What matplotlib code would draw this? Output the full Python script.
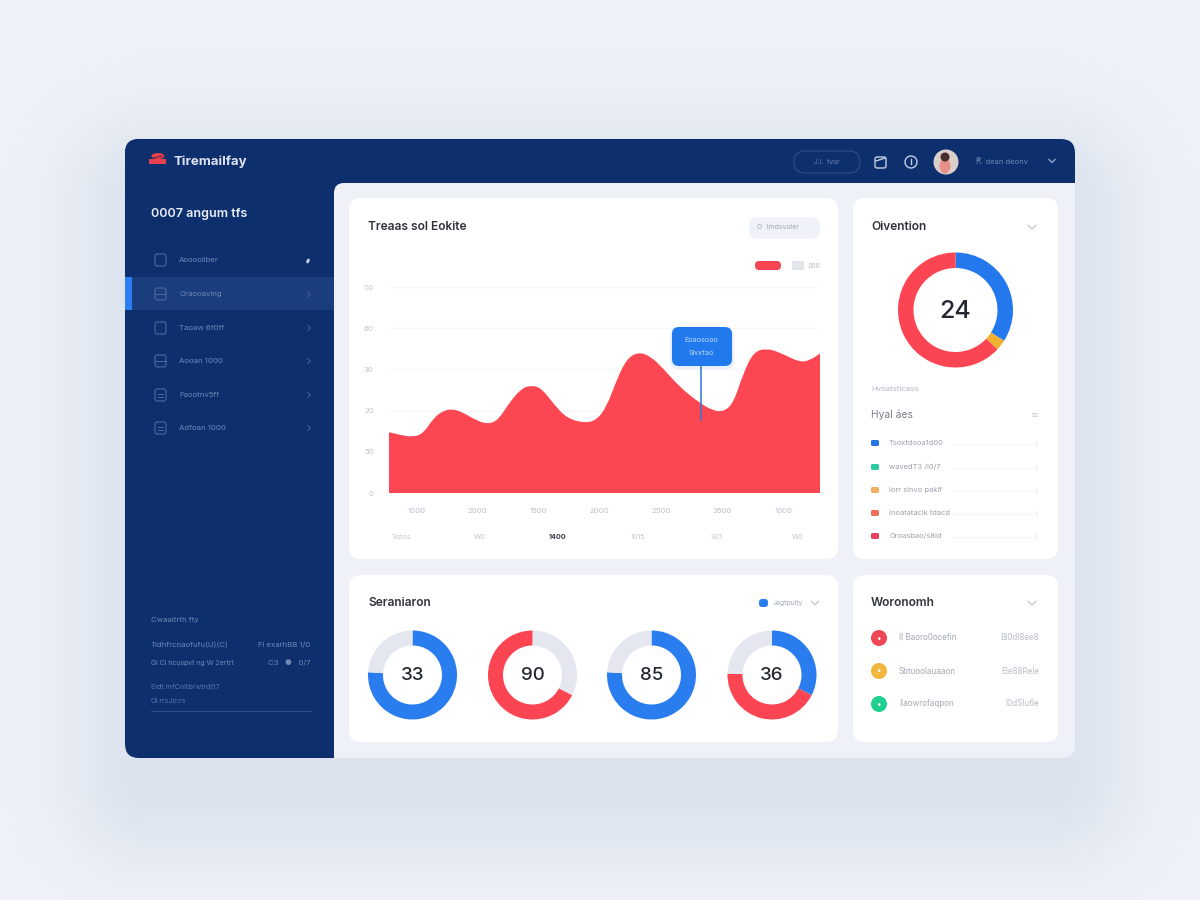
import numpy as np
import matplotlib
matplotlib.use("Agg")
import matplotlib.pyplot as plt
from matplotlib.patches import FancyBboxPatch, Rectangle, Circle, PathPatch, Ellipse
from matplotlib.path import Path

plt.rcParams['font.family'] = ['Inter', 'DejaVu Sans']

# ---------- data ----------
area_x = [0, 2.6, 5.6, 8, 10.3, 12.6, 14.9, 17.2, 20.3, 23, 25.4, 28.1, 30.8, 33.1, 35.4, 38.1, 41.2,
          45.5, 48.2, 50.5, 52.8, 55.2, 57.9, 60.6, 63.6, 67.5, 72.2, 75.2, 77.6, 79.9, 82.2, 84.6,
          87.6, 90.7, 95.3, 97.7, 100]
area_y = [29.5, 28.2, 27.1, 29.0, 36.3, 40.0, 40.8, 39.0, 35.2, 33.4, 35.5, 44.4, 50.8, 52.3, 50.8, 43.5, 36.3,
          33.9, 35.5, 41.9, 54.8, 65.3, 68.4, 66.5, 60.5, 51.3, 43.5, 40.0, 39.5, 43.5, 58.1, 68.5,
          70.2, 68.2, 63.4, 64.5, 67.7]
y_ticks = [0, 20, 40, 60, 80, 100]
y_tick_labels = ['0', '50', '20', '30', '60', '00']
x_tick_pos = [6.5, 20.4, 34.6, 48.7, 63.1, 77.3, 91.6]
x_tick_labels = ['1000', '2000', '1500', '2000', '2500', '3500', '1000']
x2_pos = [2.8, 21.1, 39.2, 57.8, 76.1, 94.7]
x2_labels = ['Sqtos', 'W0', '1400', '1015', 'S01', 'W0']

overview_values = [34, 3, 63]
overview_colors = ['#2478EE', '#F0B030', '#FB4552']
overview_center = '24'

donut_values = [[76, 24], [32.5, 67.5], [76, 24], [32.5, 43, 24.5]]
donut_colors = [['#2A7DEE', '#E4E7EF'], ['#E4E7EF', '#FB4552'], ['#2A7DEE', '#E4E7EF'],
                ['#2A7DEE', '#FB4552', '#E4E7EF']]
donut_labels = ['33', '90', '85', '36']

side_items = ['Aooooilber', 'Oraooaving', 'Taoaw 6f0ff', 'Aooan 1000', 'Faootnv5ff', 'Adfoan 1000']
legend_items = ['Tsoxtdooa1d00', 'wavedT3 /l0/7', 'lorr sinvo paklf', 'Inoatatacik tdacd', 'Oroasbao/s8ld']
legend_colors = ['#2476E6', '#2CCB9F', '#F2AE62', '#EE6C58', '#E8425E']
list_left = ['Il Baoro0ocefin', 'Sbtuoolauaaon', 'Ilaowrofaqpon']
list_right = ['Bl0dI8ee8', 'Ele88Rele', 'I0dSIu6e']
list_colors = ['#EF4655', '#F2B73D', '#1FD08F']

NAVY = '#0E2F6E'
INK = '#30343C'
MUTED = '#B3B9C4'
PANEL = '#EEF2F8'

# ---------- canvas ----------
fig = plt.figure(figsize=(12, 9), dpi=100)
bg = fig.add_axes([0, 0, 1, 1], zorder=0)
bg.set_xlim(0, 1200); bg.set_ylim(900, 0); bg.axis('off')

yy, xx = np.mgrid[0:900, 0:1200]
qx = np.maximum(np.abs(xx - 600) - 450, 0)
qy = np.maximum(np.abs(yy - 490) - 290, 0)
dist = np.hypot(qx, qy)
shade = 0.55 * np.exp(-(dist / 85.0) ** 2)
base = np.array([0xEF, 0xF2, 0xF8]) / 255
dark = np.array([0xCB, 0xD6, 0xE6]) / 255
img = base[None, None, :] * (1 - shade[..., None]) + dark[None, None, :] * shade[..., None]
bg.imshow(img, extent=(0, 1200, 900, 0), aspect='auto', interpolation='bilinear', zorder=0)
bg.set_xlim(0, 1200); bg.set_ylim(900, 0)


def rbox(ax, x0, y0, x1, y1, r, fc, ec='none', lw=0, z=2, alpha=None):
    p = FancyBboxPatch((x0 + r, y0 + r), x1 - x0 - 2 * r, y1 - y0 - 2 * r,
                       boxstyle=f'round,pad={r},rounding_size={r}', fc=fc, ec=ec, lw=lw,
                       zorder=z, alpha=alpha)
    ax.add_patch(p)
    return p


def txt(ax, x, y, s, size=6, color=MUTED, ha='left', weight='normal', z=6):
    return ax.text(x, y, s, fontsize=size, color=color, ha=ha, va='center', fontweight=weight, zorder=z)


def chevron(ax, x, y, size=4, color='#B8BEC8', lw=0.8, right=False):
    if right:
        ax.plot([x - size / 2, x + size / 2, x - size / 2], [y - size, y, y + size], color=color, lw=lw, zorder=6)
    else:
        ax.plot([x - size, x, x + size], [y - size / 2, y + size / 2, y - size / 2], color=color, lw=lw, zorder=6)


# shell: light base, navy sidebar and header clipped to its rounded outline
shell = rbox(bg, 125, 139, 1075, 758, 14, PANEL, z=1)
side = Rectangle((125, 139), 209, 619, fc=NAVY, ec='none', zorder=1.5)
bg.add_patch(side); side.set_clip_path(shell)
head = Rectangle((125, 139), 950, 44, fc=NAVY, ec='none', zorder=1.5)
bg.add_patch(head); head.set_clip_path(shell)
corner_fill = Rectangle((334, 183), 12, 12, fc=NAVY, ec='none', zorder=1.6)
bg.add_patch(corner_fill)
content = rbox(bg, 334, 183, 1110, 800, 10, PANEL, z=2)
content.set_clip_path(shell)

# highlight row
bg.add_patch(Rectangle((125, 277), 209, 33, fc='#1A3D7E', ec='none', zorder=2))
bg.add_patch(Rectangle((125, 277), 7, 33, fc='#2B7FF2', ec='none', zorder=3))

# cards
for (a, b, c, d) in [(349, 198, 838, 559), (853, 198, 1058, 559), (349, 575, 838, 742), (853, 575, 1058, 742)]:
    rbox(bg, a, b, c, d, 12, '#FFFFFF', z=3)

# header
bg.add_patch(Ellipse((158, 156), 13, 6, fc='#E8404E', ec='none', zorder=5))
bg.add_patch(Rectangle((149, 159), 17, 5, fc='#E8404E', ec='none', zorder=5))
bg.plot([153, 163], [158, 156], color='#7A1F3A', lw=0.8, zorder=6)
txt(bg, 174, 162, 'Tiremailfay', 9.5, '#DDE4F0', weight='bold')
rbox(bg, 794, 151, 860, 173, 11, 'none', ec='#2D4F8E', lw=0.8, z=4)
txt(bg, 827, 162, 'J.I.  tvor', 4.8, '#6E86B4', ha='center')
rbox(bg, 875, 157, 886, 168, 2, 'none', ec='#C3CFE2', lw=1, z=5)
bg.plot([876, 885], [161, 158], color='#C3CFE2', lw=1, zorder=6)
bg.add_patch(Circle((911, 162), 6, fc='none', ec='#C3CFE2', lw=1, zorder=5))
bg.plot([911, 911], [159, 164], color='#C3CFE2', lw=1, zorder=6)
bg.add_patch(Circle((946, 162), 12.5, fc='#D9CFCB', ec='none', zorder=5))
bg.add_patch(Ellipse((945, 166), 11, 15, fc='#E88F88', ec='none', zorder=6))
bg.add_patch(Circle((945, 157), 4.5, fc='#4A2A2C', ec='none', zorder=7))
txt(bg, 976, 162, 'Ꞧ  dean deonv', 5.5, '#6E86B4')
chevron(bg, 1052, 161, 3, '#8FA3C8', 1)

# sidebar
txt(bg, 151, 214, '0007 angum tfs', 9.0, '#E8EDF6', weight='semibold')
rows_y = [260, 294, 328, 361, 395, 428]
for i, (name, y) in enumerate(zip(side_items, rows_y)):
    rbox(bg, 155, y - 6, 166, y + 6, 2.5, 'none', ec='#4C6A9F', lw=0.8, z=5)
    if i in (1, 3):
        bg.plot([155, 166], [y, y], color='#4C6A9F', lw=0.7, zorder=6)
    if i >= 4:
        bg.plot([158, 163], [y - 1, y - 1], color='#4C6A9F', lw=0.7, zorder=6)
        bg.plot([158, 163], [y + 2, y + 2], color='#4C6A9F', lw=0.7, zorder=6)
    txt(bg, 179, y, name, 5.6, '#6F88B5')
    if i == 0:
        bg.add_patch(Ellipse((308, y + 1), 3, 5, angle=25, fc='#C7D3E6', ec='none', zorder=6))
    else:
        chevron(bg, 309, y, 2.5, '#3E5F98', 0.8, right=True)

txt(bg, 151, 620, 'Cwaaitrth fty', 5.6, '#6F88B5')
txt(bg, 151, 645, 'Tidhfrcnaofufu(U)(C)', 5.6, '#6F88B5')
txt(bg, 310, 645, 'Fl exarhBB 1/0', 5.6, '#6F88B5', ha='right')
txt(bg, 151, 663, 'Gl Cl hcuspvt ng W 2ertrt', 5.0, '#6F88B5')
txt(bg, 310, 663, 'C3   ●   0/7', 5.6, '#6F88B5', ha='right')
txt(bg, 151, 687, 'Eldt mfCnltbrwtrd(t7', 5.2, '#5A76A8')
txt(bg, 151, 701, 'Ol.rrsJo:rs', 5.2, '#5A76A8')
bg.plot([151, 311], [711, 711], color='#2C4E8C', lw=0.8, zorder=5)

# card A decoration
txt(bg, 368, 227, 'Treaas sol Eokite', 8.6, INK, weight='semibold')
rbox(bg, 749, 217, 820, 239, 9, '#EFF2F8', z=5)
txt(bg, 757, 227, 'O  tmdsvoler', 5, '#A2A9B6')
rbox(bg, 755, 261, 781, 270, 4, '#FB4552', z=5)
bg.add_patch(Rectangle((792, 261), 12, 9, fc='#E2E5EA', ec='none', zorder=5))
txt(bg, 808, 266, '200', 5, MUTED)

# card B decoration
txt(bg, 871, 227, 'Oivention', 8.6, INK, weight='semibold')
chevron(bg, 1032, 227, 4)
txt(bg, 871, 389, 'Hvoatsticaso', 5.6, MUTED)
txt(bg, 871, 415, 'Hyal áes', 7.4, '#767C88')
txt(bg, 1035, 415, '≡', 7, '#CDD2DA', ha='center')
for name, col, y in zip(legend_items, legend_colors, [443, 467, 490, 513, 536]):
    rbox(bg, 871, y - 3, 879, y + 3, 1.5, col, z=5)
    txt(bg, 889, y, name, 5.4, '#9AA1AD')
    bg.plot([952, 1033], [y + 1, y + 1], color='#F4F5F8', lw=0.8, zorder=5)
    bg.plot([1036, 1036], [y - 2, y + 2], color='#E9EBEF', lw=0.8, zorder=5)

# card C decoration
txt(bg, 368, 603, 'Seraniaron', 8.6, INK, weight='semibold')
rbox(bg, 759, 599, 768, 607, 3, '#2A7DEE', z=5)
txt(bg, 773, 603, 'Jagtpuity', 5, '#A2A9B6')
chevron(bg, 815, 603, 3.5)

# card D
txt(bg, 871, 603, 'Woronomh', 8.6, INK, weight='semibold')
chevron(bg, 1032, 603, 4)
for a, b, c, y in zip(list_left, list_right, list_colors, [638, 671, 704]):
    bg.add_patch(Circle((879, y), 8, fc=c, ec='none', zorder=5))
    txt(bg, 879, y, '•', 6, '#FFFFFF', ha='center')
    txt(bg, 899, y, a, 5.8, '#A2A9B6')
    txt(bg, 1039, y, b, 5.8, '#B8BEC8', ha='right')


# ---------- area chart ----------
def sub_axes(x0, y0, x1, y1, z=5):
    return fig.add_axes([x0 / 1200, 1 - y1 / 900, (x1 - x0) / 1200, (y1 - y0) / 900], zorder=z)


ax = sub_axes(389, 287, 820, 493)
ax.patch.set_alpha(0)
ax.set_xlim(0, 100)
ax.set_ylim(0, 100)
for s in ax.spines.values():
    s.set_visible(False)
ax.set_yticks(y_ticks)
ax.set_yticklabels(y_tick_labels, fontsize=5.6, color='#BFC4CD')
ax.set_xticks(x_tick_pos)
ax.set_xticklabels(x_tick_labels, fontsize=5.6, color='#B9BEC8')
ax.tick_params(axis='both', length=0)
ax.tick_params(axis='y', pad=11)
ax.tick_params(axis='x', pad=11)
ax.grid(axis='y', color='#F6F7F8', lw=0.9)
ax.set_axisbelow(True)

# smooth outline: quadratic curve running through the midpoints of the read points
px = np.array(area_x, float); py = np.array(area_y, float)
mid_x = (px[:-1] + px[1:]) / 2; mid_y = (py[:-1] + py[1:]) / 2
verts = [(px[0], 0), (px[0], py[0]), (mid_x[0], mid_y[0])]
codes = [Path.MOVETO, Path.LINETO, Path.LINETO]
for i in range(1, len(px) - 1):
    verts += [(px[i], py[i]), (mid_x[i], mid_y[i])]
    codes += [Path.CURVE3, Path.CURVE3]
verts += [(px[-1], py[-1]), (px[-1], 0), (px[0], 0)]
codes += [Path.LINETO, Path.LINETO, Path.CLOSEPOLY]
ax.add_patch(PathPatch(Path(verts, codes), fc='#FC4651', ec='none', zorder=3))

for xp, lab in zip(x2_pos, x2_labels):
    ax.annotate(lab, (xp, 0), xytext=(0, -44 * 0.72), textcoords='offset points', fontsize=5.2,
                color='#3C414B' if lab == '1400' else '#C3C8D0', ha='center', va='center',
                fontweight='bold' if lab == '1400' else 'normal', annotation_clip=False)


# ---------- donuts ----------
def donut(cx, cy, r_out, r_in, values, colors, label, size):
    a = sub_axes(cx - r_out, cy - r_out, cx + r_out, cy + r_out)
    a.pie(values, colors=colors, startangle=90, counterclock=False, radius=1,
          wedgeprops=dict(width=1 - r_in / r_out, linewidth=0))
    a.set_xlim(-1, 1); a.set_ylim(-1, 1)
    a.text(0, -0.02, label, ha='center', va='center', fontsize=size, color='#23272F', fontweight='medium')


donut(955.5, 310, 57.5, 42, overview_values, overview_colors, overview_center, 18)
for cx, vals, cols, lab in zip([412.5, 532.5, 651.5, 772], donut_values, donut_colors, donut_labels):
    donut(cx, 675, 44.5, 29.5, vals, cols, lab, 13.5)

# ---------- overlay: tooltip ----------
top = fig.add_axes([0, 0, 1, 1], zorder=10)
top.set_xlim(0, 1200); top.set_ylim(900, 0); top.axis('off'); top.patch.set_alpha(0)
top.plot([701, 701], [364, 420], color='#2F77DC', lw=1.1, zorder=3)
rbox(top, 670, 328, 734, 369, 8, '#7FB0F5', z=2, alpha=0.18)
rbox(top, 672, 327, 732, 366, 7, '#2179EE', z=4)
txt(top, 701, 340, 'Eoaosoao', 5.2, '#BBD6FB', ha='center')
txt(top, 701, 353, 'Sivxfao', 5.2, '#BBD6FB', ha='center')

fig.savefig('out.png', dpi=100)
